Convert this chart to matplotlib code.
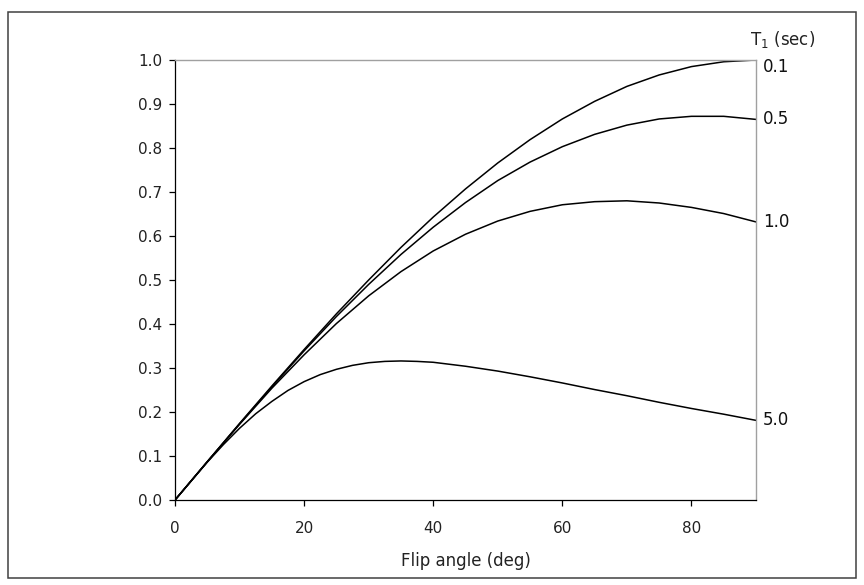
import matplotlib
matplotlib.use("Agg")
import matplotlib.pyplot as plt
from matplotlib.patches import Rectangle

# Flip angle (deg) and signal, one series per T1
flip_angle = [0, 5, 10, 15, 20, 25, 30, 35, 40, 45, 50, 55, 60, 65, 70, 75, 80, 85, 90]
sig_t1_01 = [0.0, 0.087, 0.174, 0.259, 0.342, 0.423, 0.500, 0.574, 0.643, 0.707,
             0.766, 0.819, 0.866, 0.906, 0.940, 0.966, 0.985, 0.996, 1.000]
sig_t1_05 = [0.0, 0.087, 0.173, 0.257, 0.339, 0.417, 0.490, 0.558, 0.620, 0.676,
             0.726, 0.768, 0.803, 0.831, 0.852, 0.866, 0.872, 0.872, 0.865]
sig_t1_10 = [0.0, 0.087, 0.172, 0.254, 0.330, 0.401, 0.464, 0.519, 0.566, 0.604,
             0.634, 0.656, 0.671, 0.678, 0.680, 0.675, 0.665, 0.651, 0.632]
# T1 = 5 s bends sharply early on, so it was read more finely below 40 deg
flip_angle_t1_50 = [0, 2.5, 5, 7.5, 10, 12.5, 15, 17.5, 20, 22.5, 25, 27.5, 30, 32.5,
                    35, 37.5, 40, 45, 50, 55, 60, 65, 70, 75, 80, 85, 90]
sig_t1_50 = [0.0, 0.043, 0.086, 0.126, 0.163, 0.196, 0.224, 0.249, 0.269, 0.285,
             0.297, 0.306, 0.312, 0.315, 0.316, 0.315, 0.313, 0.304, 0.293, 0.280,
             0.266, 0.251, 0.237, 0.222, 0.208, 0.195, 0.181]

series = [(flip_angle, sig_t1_01), (flip_angle, sig_t1_05),
          (flip_angle, sig_t1_10), (flip_angle_t1_50, sig_t1_50)]
t1_labels = ["0.1", "0.5", "1.0", "5.0"]
label_nudge = [-0.015, 0.0, 0.0, 0.0]

W, H = 864, 585
fig = plt.figure(figsize=(W / 100, H / 100), dpi=100, facecolor="white")
ax = fig.add_axes([175 / W, 1 - 500 / H, (756 - 175) / W, (500 - 60) / H])

for xs, ys in series:
    ax.plot(xs, ys, color="black", lw=1.1, solid_joinstyle="round")

for (xs, ys), lab, dy in zip(series, t1_labels, label_nudge):
    ax.annotate(lab, xy=(xs[-1], ys[-1] + dy), xytext=(5, 0),
                textcoords="offset points", va="center", ha="left",
                fontsize=12, color="#111111", annotation_clip=False)

ax.set_xlim(0, 90)
ax.set_ylim(0, 1.0)
ax.set_xticks([0, 20, 40, 60, 80])
ax.set_yticks([i / 10 for i in range(11)])
ax.set_yticklabels([f"{i / 10:.1f}" for i in range(11)])
ax.tick_params(axis="both", direction="out", length=4, width=0.9,
               labelsize=11, labelcolor="#222222", color="black")
ax.tick_params(axis="y", pad=5)
ax.tick_params(axis="x", pad=11)
ax.set_xlabel("Flip angle (deg)", fontsize=12, color="#222222", labelpad=12)

for side in ("left", "bottom"):
    ax.spines[side].set_color("black")
    ax.spines[side].set_linewidth(0.9)
for side in ("top", "right"):
    ax.spines[side].set_color("#a0a0a0")
    ax.spines[side].set_linewidth(1.0)

fig.text(750 / W, 1 - 40 / H, "T$_1$ (sec)", fontsize=12, color="#222222",
         ha="left", va="center")

# thin frame around the whole figure
fig.patches.append(Rectangle((8 / W, 7 / H), (856 - 8) / W, (573 - 7) / H,
                             transform=fig.transFigure, fill=False,
                             edgecolor="#404040", lw=1.1))

fig.savefig("out.png", dpi=100, facecolor="white")
